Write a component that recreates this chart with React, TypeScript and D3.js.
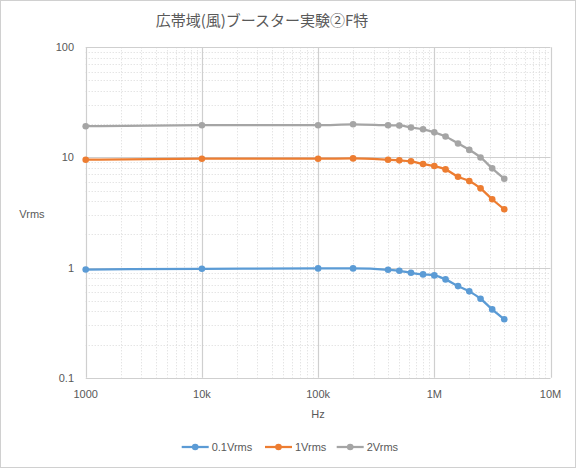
import React, { useRef, useEffect } from "react";
import * as d3 from "d3";

const freqs = [1e3, 1e4, 1e5, 2e5, 4e5, 5e5, 6.3e5, 8e5, 1e6, 1.25e6, 1.6e6, 2e6, 2.5e6, 3.15e6, 4e6];
const v01 = [0.96, 0.975, 0.983, 0.983, 0.955, 0.935, 0.897, 0.867, 0.849, 0.781, 0.679, 0.608, 0.521, 0.417, 0.339];
const v1 = [9.53, 9.73, 9.73, 9.8, 9.53, 9.41, 9.22, 8.71, 8.35, 7.79, 6.68, 6.1, 5.24, 4.17, 3.38];
const v2 = [19.2, 19.6, 19.6, 20.0, 19.6, 19.5, 18.7, 18.0, 16.9, 15.5, 13.4, 11.7, 10.0, 7.96, 6.41];

const xTicks = [1e3, 1e4, 1e5, 1e6, 1e7];
const xTickLabels = ["1000", "10k", "100k", "1M", "10M"];
const yTicks = [0.1, 1, 10, 100];
const yTickLabels = ["0.1", "1", "10", "100"];

const seriesNames = ["0.1Vrms", "1Vrms", "2Vrms"];
const seriesColors = ["#5b9bd5", "#ed7d31", "#a5a5a5"];

const title = "広帯域(風)ブースター実験②F特";

export default function App() {
  const svgRef = useRef<SVGSVGElement>(null);

  useEffect(() => {
    if (!svgRef.current) return;
    const svg = d3.select(svgRef.current);
    svg.selectAll("*").remove();

    const width = 576;
    const height = 468;
    const textColor = "#595959";
    const font = "'Liberation Sans', Arial, sans-serif";

    svg.attr("width", width).attr("height", height);

    svg.append("rect")
      .attr("x", 0.5).attr("y", 0.5)
      .attr("width", width - 1).attr("height", height - 1)
      .attr("fill", "#ffffff")
      .attr("stroke", "#d0d0d0");

    const xScale = d3.scaleLog().domain([1e3, 1e7]).range([85.7, 550.5]);
    const yScale = d3.scaleLog().domain([0.1, 100]).range([377.7, 47.3]);

    const grid = svg.append("g");

    // minor grid (dotted)
    const minorX: number[] = [];
    for (let d = 1e3; d < 1e7; d *= 10) for (let k = 2; k <= 9; k++) minorX.push(d * k);
    const minorY: number[] = [];
    for (let d = 0.1; d < 99; d *= 10) for (let k = 2; k <= 9; k++) minorY.push(d * k);

    grid.selectAll(".mx").data(minorX).enter().append("line")
      .attr("x1", d => Math.round(xScale(d)) + 0.5).attr("x2", d => Math.round(xScale(d)) + 0.5)
      .attr("y1", yScale(100)).attr("y2", yScale(0.1))
      .attr("stroke", "#d9d9d9").attr("stroke-width", 1).attr("stroke-dasharray", "1,2");
    grid.selectAll(".my").data(minorY).enter().append("line")
      .attr("x1", xScale(1e3)).attr("x2", xScale(1e7))
      .attr("y1", d => Math.round(yScale(d)) + 0.5).attr("y2", d => Math.round(yScale(d)) + 0.5)
      .attr("stroke", "#d9d9d9").attr("stroke-width", 1).attr("stroke-dasharray", "1,2");

    // major grid (solid)
    grid.selectAll(".Mx").data(xTicks).enter().append("line")
      .attr("x1", d => Math.round(xScale(d)) + 0.5).attr("x2", d => Math.round(xScale(d)) + 0.5)
      .attr("y1", yScale(100)).attr("y2", yScale(0.1))
      .attr("stroke", "#cfcfcf").attr("stroke-width", 1.2);
    grid.selectAll(".My").data(yTicks).enter().append("line")
      .attr("x1", xScale(1e3)).attr("x2", xScale(1e7))
      .attr("y1", d => Math.round(yScale(d)) + 0.5).attr("y2", d => Math.round(yScale(d)) + 0.5)
      .attr("stroke", "#cfcfcf").attr("stroke-width", 1.2);

    // tick labels
    svg.append("g").selectAll("text").data(xTicks).enter().append("text")
      .attr("x", d => xScale(d)).attr("y", 398)
      .attr("text-anchor", "middle")
      .style("font-family", font).style("font-size", "11px").style("fill", textColor)
      .text((d, i) => xTickLabels[i]);

    svg.append("g").selectAll("text").data(yTicks).enter().append("text")
      .attr("x", 74).attr("y", d => yScale(d) + 4)
      .attr("text-anchor", "end")
      .style("font-family", font).style("font-size", "11px").style("fill", textColor)
      .text((d, i) => yTickLabels[i]);

    // axis titles
    svg.append("text")
      .attr("x", 318).attr("y", 418).attr("text-anchor", "middle")
      .style("font-family", font).style("font-size", "11px").style("fill", textColor)
      .text("Hz");
    svg.append("text")
      .attr("x", 32).attr("y", 218).attr("text-anchor", "middle")
      .style("font-family", font).style("font-size", "11px").style("fill", textColor)
      .text("Vrms");

    // chart title
    svg.append("text")
      .attr("x", 262).attr("y", 26).attr("text-anchor", "middle")
      .style("font-family", "'Noto Sans CJK JP', sans-serif").style("font-size", "15px")
      .style("fill", textColor)
      .text(title);

    // series
    const allSeries = [v01, v1, v2];
    const line = d3.line<number>()
      .x((d, i) => xScale(freqs[i]))
      .y(d => yScale(d))
      .curve(d3.curveMonotoneX);

    allSeries.forEach((vals, s) => {
      const g = svg.append("g");
      g.append("path")
        .datum(vals)
        .attr("fill", "none")
        .attr("stroke", seriesColors[s])
        .attr("stroke-width", 2.25)
        .attr("stroke-linejoin", "round")
        .attr("d", line);
      g.selectAll("circle").data(vals).enter().append("circle")
        .attr("cx", (d, i) => xScale(freqs[i]))
        .attr("cy", d => yScale(d))
        .attr("r", 3.3)
        .attr("fill", seriesColors[s]);
    });

    // legend
    const legendX = [181.7, 265, 336.7];
    const legendY = 447;
    seriesNames.forEach((name, i) => {
      const g = svg.append("g").attr("transform", `translate(${legendX[i]},${legendY})`);
      g.append("line")
        .attr("x1", 0).attr("x2", 27).attr("y1", 0).attr("y2", 0)
        .attr("stroke", seriesColors[i]).attr("stroke-width", 2.25);
      g.append("circle").attr("cx", 13.5).attr("cy", 0).attr("r", 3.3).attr("fill", seriesColors[i]);
      g.append("text")
        .attr("x", 30).attr("y", 4)
        .style("font-family", font).style("font-size", "11px").style("fill", textColor)
        .text(name);
    });
  }, []);

  return (
    <svg ref={svgRef} style={{ position: "absolute", left: 0, top: 0, display: "block" }} />
  );
}
